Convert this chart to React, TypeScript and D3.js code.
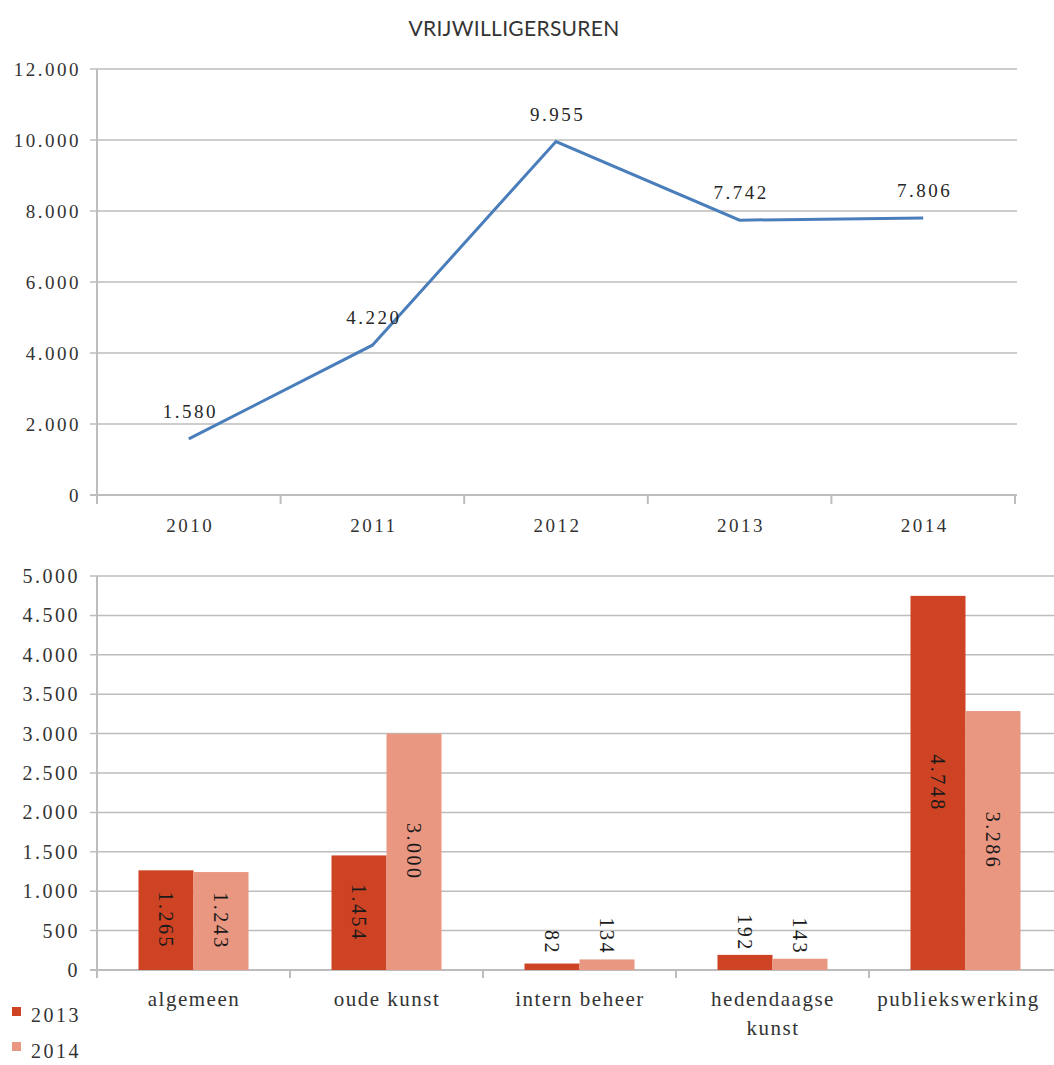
import React from "react";
import * as d3 from "d3";

const years = ["2010", "2011", "2012", "2013", "2014"];
const hours = [1580, 4220, 9955, 7742, 7806];
const topTicks = [0, 2000, 4000, 6000, 8000, 10000, 12000];

const categories = ["algemeen", "oude kunst", "intern beheer", "hedendaagse kunst", "publiekswerking"];
const categoryLines = [["algemeen"], ["oude kunst"], ["intern beheer"], ["hedendaagse", "kunst"], ["publiekswerking"]];
const seriesNames = ["2013", "2014"];
const values2013 = [1265, 1454, 82, 192, 4748];
const values2014 = [1243, 3000, 134, 143, 3286];
const bottomTicks = [0, 500, 1000, 1500, 2000, 2500, 3000, 3500, 4000, 4500, 5000];

const colors = ["#cd4324", "#ea9781"];
const lineColor = "#4a7ebb";
const gridColor = "#bdbdbd";
const textColor = "#333333";
const serif = "Liberation Serif, DejaVu Serif, Times New Roman, serif";

const fmt = (v: number) => d3.format(",")(v).replace(/,/g, ".");

export default function App() {
  const W = 1054, H = 1065;
  // top chart
  const tLeft = 97, tRight = 1015;
  const ty = d3.scaleLinear().domain([0, 12000]).range([495, 69]);
  const tx = d3.scaleBand().domain(years).range([tLeft, tRight]);
  const txc = (d: string) => (tx(d) as number) + tx.bandwidth() / 2;
  const line = d3.line<number>().x((_, i) => txc(years[i])).y((v) => ty(v));

  // bottom chart
  const bLeft = 97, bRight = 1062;
  const by = d3.scaleLinear().domain([0, 5000]).range([970, 576]);
  const bx = d3.scaleBand().domain(categories).range([bLeft, bRight]);
  const bw = bx.bandwidth();
  const bx1 = d3.scaleBand().domain(seriesNames).range([bw * 0.215, bw * 0.785]);
  const series = [values2013, values2014];

  const tickFont = { fontFamily: serif, fontSize: 19, letterSpacing: 2.5, fill: textColor } as const;
  const bTickFont = { fontFamily: serif, fontSize: 20, letterSpacing: 2.5, fill: textColor } as const;
  const catFont = { fontFamily: serif, fontSize: 21, letterSpacing: 1.5, fill: textColor } as const;

  return (
    <svg width={W} height={H} style={{ position: "absolute", left: 0, top: 0, background: "#fff" }}>
      {/* title */}
      <text x={514} y={36} textAnchor="middle" fontFamily="Lato, Open Sans, sans-serif" fontSize={21} letterSpacing={0.3} fill="#333">
        VRIJWILLIGERSUREN
      </text>

      {/* top chart grid */}
      {topTicks.map((t) => (
        <g key={"tg" + t}>
          <line x1={tLeft - 7} x2={tRight + 2} y1={ty(t)} y2={ty(t)} stroke={gridColor} strokeWidth={t === 0 ? 2 : 1.5} />
          <text x={81} y={ty(t)} dy="0.35em" textAnchor="end" {...tickFont}>{fmt(t)}</text>
        </g>
      ))}
      <line x1={tLeft} x2={tLeft} y1={ty(12000)} y2={ty(0) + 9} stroke={gridColor} strokeWidth={2} />
      {years.map((y, i) => (
        <g key={"tx" + y}>
          {i > 0 && <line x1={tx(y)} x2={tx(y)} y1={ty(0)} y2={ty(0) + 9} stroke={gridColor} strokeWidth={2} />}
          <text x={txc(y) + 1.5} y={532} textAnchor="middle" {...tickFont}>{y}</text>
        </g>
      ))}
      <line x1={tRight} x2={tRight} y1={ty(0)} y2={ty(0) + 9} stroke={gridColor} strokeWidth={2} />
      <path d={line(hours) || ""} fill="none" stroke={lineColor} strokeWidth={3} />
      {hours.map((v, i) => (
        <text key={"tl" + i} x={txc(years[i]) + 1.5} y={ty(v) - 21} textAnchor="middle" {...tickFont} fill="#262626">
          {fmt(v)}
        </text>
      ))}

      {/* bottom chart grid */}
      {bottomTicks.map((t) => (
        <g key={"bg" + t}>
          <line x1={bLeft - 7} x2={bRight} y1={by(t)} y2={by(t)} stroke={gridColor} strokeWidth={t === 0 ? 2 : 1.5} />
          <text x={80} y={by(t)} dy="0.35em" textAnchor="end" {...bTickFont}>{fmt(t)}</text>
        </g>
      ))}
      <line x1={bLeft} x2={bLeft} y1={by(5000)} y2={by(0) + 8} stroke={gridColor} strokeWidth={2} />
      {categories.map((c, i) => (
        <g key={"bc" + c}>
          {i > 0 && <line x1={bx(c)} x2={bx(c)} y1={by(0)} y2={by(0) + 8} stroke={gridColor} strokeWidth={2} />}
          {series.map((s, si) => {
            const x = (bx(c) as number) + (bx1(seriesNames[si]) as number);
            const v = s[i];
            const yTop = by(v);
            const cx = x + bx1.bandwidth() / 2;
            const inside = v > 500;
            const ly = inside ? (yTop + by(0)) / 2 : Math.min(yTop - 3, by(190));
            return (
              <g key={"b" + si}>
                <rect x={x} y={yTop} width={bx1.bandwidth()} height={by(0) - yTop} fill={colors[si]} />
                <text
                  transform={`translate(${cx},${ly}) rotate(90)`}
                  textAnchor={inside ? "middle" : "end"}
                  dominantBaseline="central"
                  fontFamily={serif}
                  fontSize={20}
                  letterSpacing={2.5}
                  fill="#1a1a1a"
                >
                  {fmt(v)}
                </text>
              </g>
            );
          })}
          {categoryLines[i].map((ln, li) => (
            <text key={ln} x={Math.min((bx(c) as number) + bw / 2, 958) + 0.5} y={1006 + li * 29} textAnchor="middle" {...catFont}>
              {ln}
            </text>
          ))}
        </g>
      ))}

      {/* legend */}
      {seriesNames.map((s, i) => (
        <g key={"lg" + s}>
          <rect x={12} y={1007 + i * 35} width={9} height={9} fill={colors[i]} />
          <text x={31} y={1022 + i * 36} {...bTickFont}>{s}</text>
        </g>
      ))}
    </svg>
  );
}
